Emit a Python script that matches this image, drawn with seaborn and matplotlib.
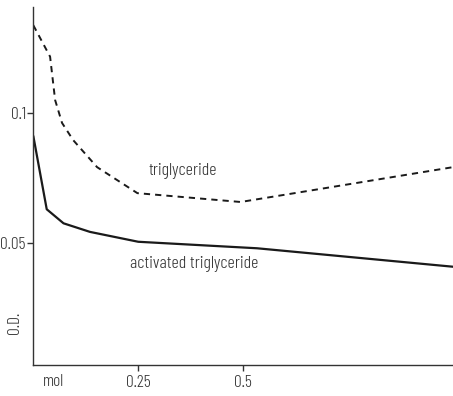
import matplotlib
matplotlib.use("Agg")
import matplotlib.pyplot as plt
import seaborn as sns
import pandas as pd

# Data
act_x = [0.0, 0.032, 0.072, 0.135, 0.25, 0.533, 1.0]
act_y = [0.0912, 0.063, 0.0576, 0.0543, 0.0505, 0.048, 0.0409]
tri_x = [0.0, 0.04, 0.052, 0.0685, 0.095, 0.152, 0.248, 0.494, 1.0]
tri_y = [0.1338, 0.1217, 0.105, 0.0962, 0.0896, 0.0792, 0.0692, 0.0658, 0.0792]
x_ticks = [0.25, 0.5]
x_tick_labels = ["0.25", "0.5"]
y_ticks = [0.05, 0.1]
y_tick_labels = ["0.05", "0.1"]

sns.set_style("ticks")
plt.rcParams['font.family'] = ['Barlow Condensed', 'DejaVu Sans']
plt.rcParams['font.weight'] = 300

fig = plt.figure(figsize=(4.53, 3.96), dpi=100)
ax = fig.add_axes([33.3 / 453, 1 - 365 / 396, 1 - 33.3 / 453, (365 - 7) / 396])

df_act = pd.DataFrame({"x": act_x, "y": act_y})
df_tri = pd.DataFrame({"x": tri_x, "y": tri_y})
sns.lineplot(data=df_act, x="x", y="y", ax=ax, color="#1a1a1a", lw=1.6)
sns.lineplot(data=df_tri, x="x", y="y", ax=ax, color="#1a1a1a", lw=1.4,
             linestyle=(0, (3.2, 2.6)))

ax.set_xlim(0, 1.0)
ax.set_ylim(0.0031, 0.1408)
ax.set_xticks(x_ticks)
ax.set_xticklabels(x_tick_labels)
ax.set_yticks(y_ticks)
ax.set_yticklabels(y_tick_labels)
ax.set_xlabel("")
ax.set_ylabel("")
fs = 13
tfs = 12.5
ax.tick_params(axis="both", labelsize=tfs, length=4.5, width=1, colors="#333333",
               labelcolor="#333333")
ax.tick_params(axis="y", pad=1.0)
ax.tick_params(axis="x", pad=2.5)
sns.despine(ax=ax)
for s in ("left", "bottom"):
    ax.spines[s].set_color("#333333")
    ax.spines[s].set_linewidth(1.0)

ax.text(0.049, -0.047, "mol", transform=ax.get_xaxis_transform(), ha="center",
        va="center", fontsize=tfs, color="#333333")
ax.text(0.274, 0.0777, "triglyceride", ha="left", va="center", fontsize=fs,
        color="#333333")
ax.text(0.231, 0.0419, "activated triglyceride", ha="left", va="center",
        fontsize=fs, color="#333333")
fig.text(15 / 453, 1 - 323 / 396, "O.D.", rotation=90, ha="center", va="center",
         fontsize=tfs, color="#333333")

fig.savefig("out.png", dpi=100)
